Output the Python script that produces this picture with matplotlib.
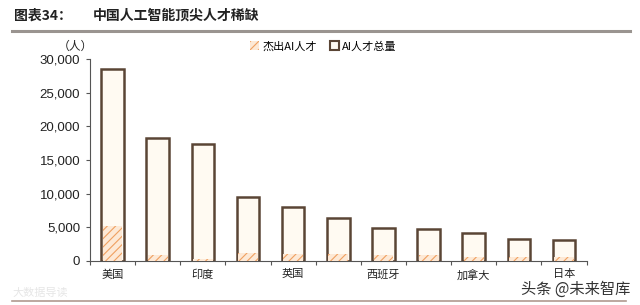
import matplotlib
matplotlib.use("Agg")
import matplotlib.pyplot as plt
from matplotlib.ticker import FuncFormatter
from matplotlib.lines import Line2D
from matplotlib.patches import Patch

plt.rcParams['font.family'] = ['Noto Sans CJK SC', 'DejaVu Sans']
plt.rcParams['hatch.linewidth'] = 0.8

countries = ['美国', '中国', '印度', '德国', '英国', '法国', '西班牙', '意大利', '加拿大', '澳大利亚', '日本']
total = [28536, 18232, 17384, 9441, 7998, 6395, 4942, 4740, 4228, 3300, 3117]
top = [5158, 890, 300, 1190, 1100, 1050, 900, 900, 650, 520, 600]
yticks = [0, 5000, 10000, 15000, 20000, 25000, 30000]

fig = plt.figure(figsize=(6.4, 3.05), dpi=100)
ax = fig.add_axes([0.1406, 0.1443, 0.776, 0.6623])

x = list(range(len(countries)))
edge = '#5a4535'
ax.bar(x, total, width=0.5, color='#fffaf2', edgecolor=edge, linewidth=1.8, zorder=2)
ax.bar(x, top, width=0.44, bottom=0, color='#fde9d6', edgecolor='#f0a060', hatch='////',
       linewidth=0, zorder=3)

ax.set_xlim(-0.5, len(countries) - 0.5)
ax.set_ylim(0, 30000)
ax.set_yticks(yticks)
ax.yaxis.set_major_formatter(FuncFormatter(lambda v, p: f'{int(v):,}'))
ax.tick_params(axis='y', labelsize=9.5, length=3, width=0.8, color='#555555', labelcolor='#222222', pad=4)
for lab in ax.get_yticklabels():
    lab.set_fontfamily(['Liberation Sans', 'DejaVu Sans'])

ax.set_xticks([i - 0.5 for i in range(len(countries) + 1)])
ax.set_xticklabels([])
ax.tick_params(axis='x', which='major', length=3, width=0.8, color='#555555')
ax.set_xticks(x[::2], minor=True)
ax.set_xticklabels(countries[::2], minor=True)
ax.tick_params(axis='x', which='minor', length=0, labelsize=8, labelcolor='#222222', pad=6)

for s in ['top', 'right']:
    ax.spines[s].set_visible(False)
for s in ['left', 'bottom']:
    ax.spines[s].set_color('#555555')
    ax.spines[s].set_linewidth(0.8)

fig.text(0.117, 0.848, '（人）', fontsize=8.5, color='#222222', ha='center', va='center')

handles = [Patch(facecolor='#fde9d6', edgecolor='#f0a060', hatch='////', linewidth=0),
           Patch(facecolor='#fffaf2', edgecolor=edge, linewidth=1.5)]
fig.legend(handles, ['杰出AI人才', 'AI人才总量'], loc='center', bbox_to_anchor=(0.505, 0.848),
           ncol=2, frameon=False, fontsize=8, handlelength=0.8, handleheight=0.8,
           handletextpad=0.3, columnspacing=1.2)

fig.text(0.022, 0.948, '图表34：', fontsize=10, fontweight='bold', color='#222222', va='center')
fig.text(0.145, 0.948, '中国人工智能顶尖人才稀缺', fontsize=10, fontweight='bold', color='#222222', va='center')
fig.add_artist(Line2D([0.018, 0.985], [0.9, 0.9], color='#9a9490', linewidth=2.2))
fig.add_artist(Line2D([0.018, 0.978], [0.013, 0.013], color='#b09a90', linewidth=1.2))

fig.text(0.985, 0.05, '头条 @未来智库', fontsize=11, color='#333333', ha='right', va='center')
fig.text(0.02, 0.04, '大数据导读', fontsize=8, color='#e6e6e6', ha='left', va='center')

fig.savefig('out.png', dpi=100, facecolor='white')
